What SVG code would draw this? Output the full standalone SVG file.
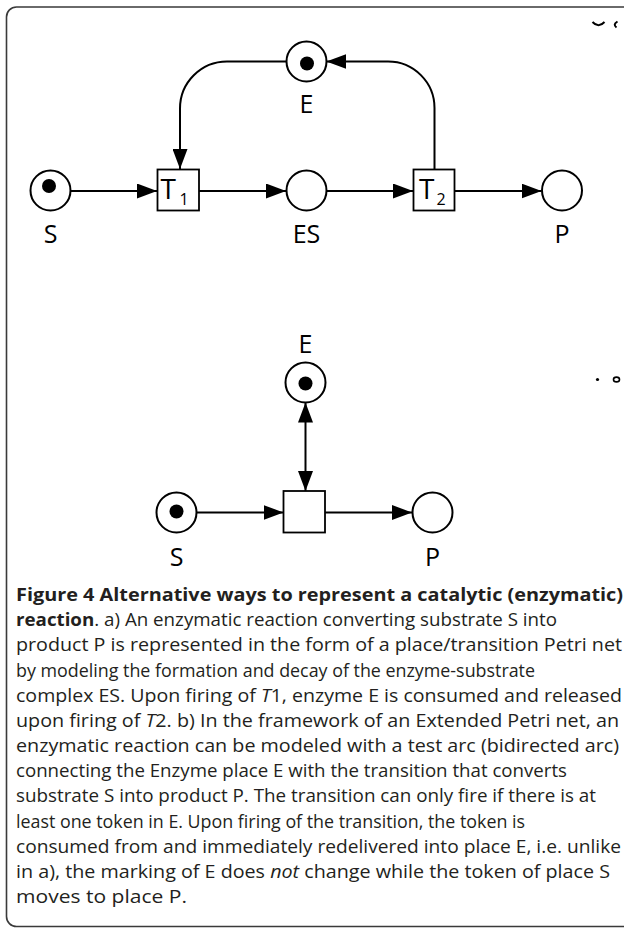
<svg xmlns="http://www.w3.org/2000/svg" width="624" height="930" viewBox="0 0 624 930">
<style>
.frame{fill:#fff;stroke:#3a3a3a;stroke-width:1.6}
.place{fill:#fff;stroke:#000;stroke-width:2}
.trans{fill:#fff;stroke:#000;stroke-width:1.8}
.token{fill:#000}
.arc{fill:none;stroke:#000;stroke-width:2}
.lbl{font-family:"Open Sans","DejaVu Sans",sans-serif;font-size:25px;fill:#000;text-anchor:middle}
.tl{font-family:"Open Sans","DejaVu Sans",sans-serif;font-size:28px;fill:#000}
.sub{font-family:"Open Sans","DejaVu Sans",sans-serif;font-size:16px;fill:#000}
.cap{font-family:"Open Sans","Noto Sans","DejaVu Sans",sans-serif;font-size:17.5px;fill:#231f20}
.b{font-weight:bold}
.i{font-style:italic}
.frag{fill:none;stroke:#000;stroke-width:2}
</style>
<defs>
<marker id="ah" markerUnits="userSpaceOnUse" markerWidth="20" markerHeight="15" refX="20" refY="7.5" orient="auto-start-reverse">
<path d="M0,0 L20,7.5 L0,15 z" fill="#000"/>
</marker>
</defs>
<rect class="frame" x="6.5" y="7" width="660" height="919.5" rx="10"/>

<!-- clipped panel-letter fragments -->
<g id="fragments">
<path class="frag" d="M592.5,22 Q598.5,28.5 604.5,22"/>
<path class="frag" d="M617.5,21.5 Q612.5,24.5 616.5,27.5"/>
<circle cx="597.5" cy="379.5" r="1.6" fill="#000"/>
<ellipse cx="616.5" cy="379.5" rx="3" ry="2.4" fill="none" stroke="#000" stroke-width="1.6"/>
</g>

<g id="connectors">
<path class="arc" d="M70.5,191 L157,191" marker-end="url(#ah)"/>
<path class="arc" d="M199,191 L286,191" marker-end="url(#ah)"/>
<path class="arc" d="M327,191 L413,191" marker-end="url(#ah)"/>
<path class="arc" d="M454.5,191 L541.5,191" marker-end="url(#ah)"/>
<path class="arc" d="M286,61.5 L227,61.5 A47,47 0 0 0 180,108.5 L180,169" marker-end="url(#ah)"/>
<path class="arc" d="M434.5,169 L434.5,108 A46.5,46.5 0 0 0 388,61.5 L326.5,61.5" marker-end="url(#ah)"/>
<path class="arc" d="M196.5,512.5 L283.5,512.5" marker-end="url(#ah)"/>
<path class="arc" d="M325,512.5 L412,512.5" marker-end="url(#ah)"/>
<path class="arc" d="M305.5,402.5 L305.5,491" marker-start="url(#ah)" marker-end="url(#ah)"/>
</g>

<!-- panel a -->
<g id="a-S">
<circle class="place" cx="50.5" cy="190.5" r="20"/>
<circle class="token" cx="49" cy="186" r="7"/>
<text class="lbl" x="50.5" y="243">S</text>
</g>
<g id="a-T1">
<rect class="trans" x="157.5" y="169.5" width="41.5" height="41"/>
<text class="tl" x="160.5" y="198.5">T</text>
<text class="sub" x="179.5" y="205">1</text>
</g>
<g id="a-ES">
<circle class="place" cx="306.5" cy="190.5" r="20"/>
<text class="lbl" x="306.5" y="243">ES</text>
</g>
<g id="a-T2">
<rect class="trans" x="413.5" y="169.5" width="41" height="41"/>
<text class="tl" x="419" y="198.5">T</text>
<text class="sub" x="436.5" y="205">2</text>
</g>
<g id="a-P">
<circle class="place" cx="562" cy="190.5" r="20"/>
<text class="lbl" x="562" y="243">P</text>
</g>
<g id="a-E">
<circle class="place" cx="306.5" cy="61.5" r="20"/>
<circle class="token" cx="307" cy="63.5" r="7"/>
<text class="lbl" x="306.5" y="113">E</text>
</g>

<!-- panel b -->
<g id="b-E">
<circle class="place" cx="305.5" cy="382.5" r="20"/>
<circle class="token" cx="305.5" cy="383.5" r="7"/>
<text class="lbl" x="305.5" y="353">E</text>
</g>
<g id="b-S">
<circle class="place" cx="176.5" cy="512.5" r="20"/>
<circle class="token" cx="176.5" cy="511.5" r="7"/>
<text class="lbl" x="176.5" y="566">S</text>
</g>
<g id="b-T">
<rect class="trans" x="283.5" y="491" width="41.5" height="41.5"/>
</g>
<g id="b-P">
<circle class="place" cx="432.5" cy="512.5" r="20"/>
<text class="lbl" x="432.5" y="566">P</text>
</g>

<g id="caption">
<text class="cap b" x="16" y="601" textLength="607" lengthAdjust="spacingAndGlyphs">Figure 4 Alternative ways to represent a catalytic (enzymatic)</text>
<text class="cap" x="16" y="626.2" textLength="541" lengthAdjust="spacingAndGlyphs"><tspan class="b">reaction</tspan>. a) An enzymatic reaction converting substrate S into</text>
<text class="cap" x="16" y="651.3" textLength="606" lengthAdjust="spacingAndGlyphs">product P is represented in the form of a place/transition Petri net</text>
<text class="cap" x="16" y="676.5" textLength="519" lengthAdjust="spacingAndGlyphs">by modeling the formation and decay of the enzyme-substrate</text>
<text class="cap" x="16" y="701.7" textLength="606" lengthAdjust="spacingAndGlyphs">complex ES. Upon firing of <tspan class="i">T</tspan>1, enzyme E is consumed and released</text>
<text class="cap" x="16" y="726.8" textLength="603" lengthAdjust="spacingAndGlyphs">upon firing of <tspan class="i">T</tspan>2. b) In the framework of an Extended Petri net, an</text>
<text class="cap" x="16" y="752" textLength="603" lengthAdjust="spacingAndGlyphs">enzymatic reaction can be modeled with a test arc (bidirected arc)</text>
<text class="cap" x="16" y="777.2" textLength="551" lengthAdjust="spacingAndGlyphs">connecting the Enzyme place E with the transition that converts</text>
<text class="cap" x="16" y="802.4" textLength="580" lengthAdjust="spacingAndGlyphs">substrate S into product P. The transition can only fire if there is at</text>
<text class="cap" x="16" y="827.5" textLength="509" lengthAdjust="spacingAndGlyphs">least one token in E. Upon firing of the transition, the token is</text>
<text class="cap" x="16" y="852.7" textLength="605" lengthAdjust="spacingAndGlyphs">consumed from and immediately redelivered into place E, i.e. unlike</text>
<text class="cap" x="16" y="877.9" textLength="594" lengthAdjust="spacingAndGlyphs">in a), the marking of E does <tspan class="i">not</tspan> change while the token of place S</text>
<text class="cap" x="16" y="903" textLength="171" lengthAdjust="spacingAndGlyphs">moves to place P.</text>
</g>
</svg>
